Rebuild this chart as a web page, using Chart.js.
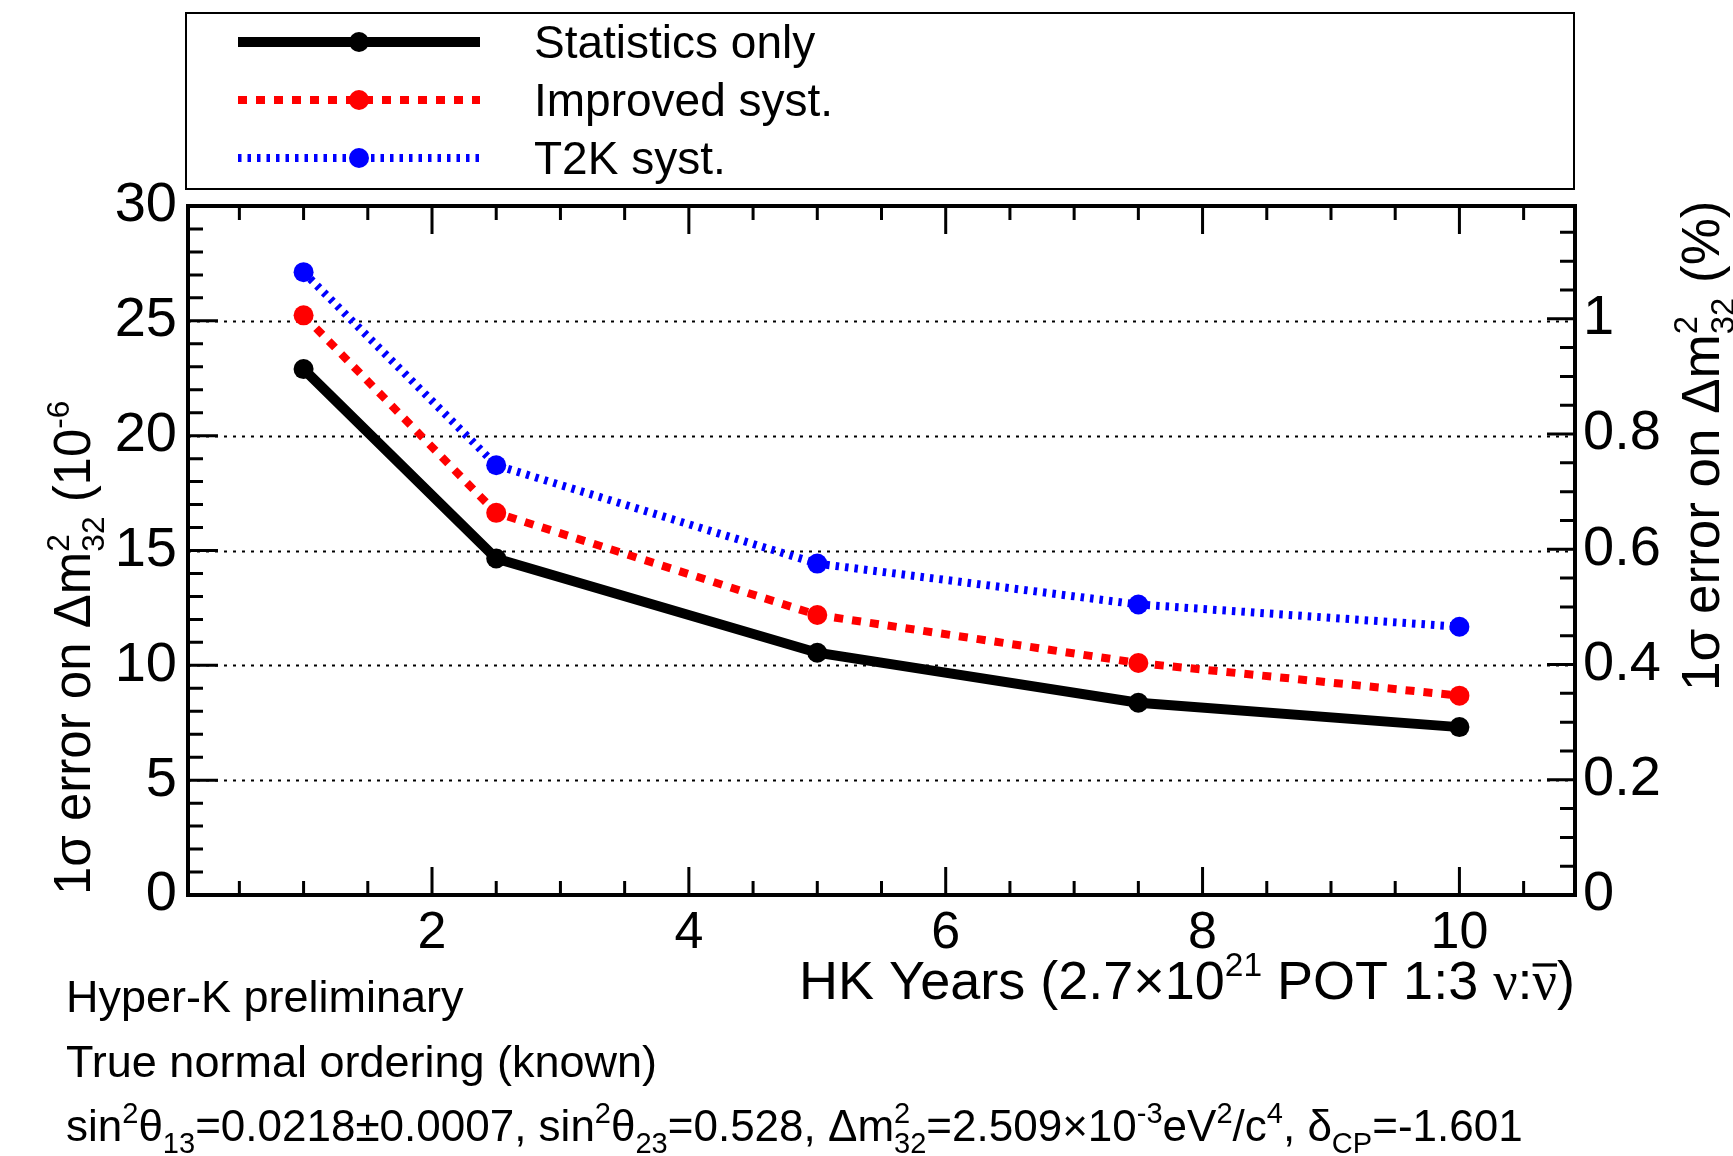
<!DOCTYPE html>
<html>
<head>
<meta charset="utf-8">
<script src="https://cdn.jsdelivr.net/npm/chart.js@4.4.1/dist/chart.umd.min.js"></script>
<style>
  html, body { margin: 0; padding: 0; background: #fff; }
  #wrap { width: 1733px; height: 1156px; }
</style>
</head>
<body>
<div id="wrap"><canvas id="c" width="1733" height="1156"></canvas></div>
<script>
// values (1 sigma error on dm2_32, units of 1e-6)
const years = [1, 2.5, 5, 7.5, 10];
const statOnly = [22.9, 14.65, 10.55, 8.37, 7.31];
const improvedSyst = [25.24, 16.64, 12.19, 10.1, 8.68];
const t2kSyst = [27.12, 18.71, 14.43, 12.65, 11.68];

const xTicks = [2, 4, 6, 8, 10];
const yTicks = [0, 5, 10, 15, 20, 25, 30];
const pctTicks = [0, 0.2, 0.4, 0.6, 0.8, 1];
const seriesNames = ['Statistics only', 'Improved syst.', 'T2K syst.'];

const dm32 = 2.509e-3;          // eV^2, used for the % axis on the right
const yMax = 30;
const pctMax = yMax * 1e-6 / dm32 * 100;

const FONT = "'Liberation Sans', Arial, Helvetica, sans-serif";
const SERIF = "'Liberation Serif', 'Times New Roman', serif";

const pts = arr => years.map((x, i) => ({ x, y: arr[i] }));

// ---- little TLatex-like text helper ----
let SUB = 0.62;
function segWidth(ctx, seg, size){
  const [t, k] = seg;
  if (k === 'st'){
    const [a, b] = t.split('|');
    ctx.font = `${size*SUB}px ${FONT}`;
    return Math.max(ctx.measureText(a).width, ctx.measureText(b).width);
  }
  if (k === '^' || k === '_') ctx.font = `${size*SUB}px ${FONT}`;
  else if (k === 'g' || k === 'gbar') ctx.font = `${size}px ${SERIF}`;
  else ctx.font = `${size}px ${FONT}`;
  return ctx.measureText(t).width;
}
function drawRich(ctx, segs, x, y, size, align){
  let total = 0;
  for (const s of segs) total += segWidth(ctx, s, size);
  let cx = align === 'right' ? x - total : x;
  ctx.textAlign = 'left';
  ctx.textBaseline = 'alphabetic';
  ctx.fillStyle = '#000';
  for (const s of segs){
    const [t, k] = s;
    const w = segWidth(ctx, s, size);
    if (k === 'st'){
      const [a, b] = t.split('|');
      ctx.font = `${size*SUB}px ${FONT}`;
      ctx.fillText(a, cx, y - size*0.42);
      ctx.fillText(b, cx, y + size*0.28);
    } else if (k === '^'){
      ctx.fillText(t, cx, y - size*0.42);
    } else if (k === '_'){
      ctx.fillText(t, cx, y + size*0.28);
    } else {
      ctx.fillText(t, cx, y);
      if (k === 'gbar'){
        ctx.fillRect(cx, y - size*0.66, w, size*0.06);
      }
    }
    cx += w;
  }
}

const yTitle = [['1σ error on Δm',''],['2|32','st'],[' (10',''],['-6','^']];
const pctTitle = [['1σ error on Δm',''],['2|32','st'],[' (%)','']];
const xTitle = [['HK Years (2.7×10',''],['21','^'],[' POT 1:3 ',''],['ν','g'],[':',''],['ν','gbar'],[')','']];
const notes = [
  [['Hyper-K preliminary','']],
  [['True normal ordering (known)','']],
  [['sin',''],['2','^'],['θ',''],['13','_'],['=0.0218±0.0007, sin',''],['2','^'],['θ',''],['23','_'],
   ['=0.528, Δm',''],['2|32','st'],['=2.509×10',''],['-3','^'],['eV',''],['2','^'],['/c',''],['4','^'],
   [', δ',''],['CP','_'],['=-1.601','']]
];

function tickLoop(from, to, step, fn){
  const n = Math.round((to - from) / step);
  for (let i = 0; i <= n; i++) fn(+(from + i*step).toFixed(6), i);
}

const rootStyle = {
  id: 'rootStyle',
  beforeDatasetsDraw(chart){
    const { ctx, chartArea: a, scales } = chart;
    ctx.save();
    ctx.strokeStyle = '#000';
    ctx.lineWidth = 2;
    ctx.setLineDash([3, 6]);
    for (const v of yTicks){
      if (v === 0 || v === yMax) continue;
      const py = Math.round(scales.y.getPixelForValue(v)) + 0.5;
      ctx.beginPath(); ctx.moveTo(a.left, py); ctx.lineTo(a.right, py); ctx.stroke();
    }
    ctx.restore();
  },
  afterDraw(chart){
    const { ctx, chartArea: a, scales } = chart;
    ctx.save();
    ctx.strokeStyle = '#000';
    ctx.lineWidth = 3;
    ctx.setLineDash([]);
    ctx.beginPath();
    // x ticks, bottom and top, pointing inwards
    tickLoop(0.5, 10.5, 0.5, v => {
      const px = scales.x.getPixelForValue(v);
      const len = (v % 2 === 0) ? 28 : 14;
      ctx.moveTo(px, a.bottom); ctx.lineTo(px, a.bottom - len);
      ctx.moveTo(px, a.top); ctx.lineTo(px, a.top + len);
    });
    // left ticks
    tickLoop(1, 29, 1, v => {
      const py = scales.y.getPixelForValue(v);
      const len = (v % 5 === 0) ? 30 : 15;
      ctx.moveTo(a.left, py); ctx.lineTo(a.left + len, py);
    });
    // right (%) ticks
    tickLoop(0.05, 1.15, 0.05, (v, i) => {
      const py = scales.y2.getPixelForValue(v);
      const len = ((i + 1) % 4 === 0) ? 28 : 15;
      ctx.moveTo(a.right, py); ctx.lineTo(a.right - len, py);
    });
    ctx.stroke();
    // frame
    ctx.lineWidth = 4;
    ctx.strokeRect(a.left, a.top, a.right - a.left, a.bottom - a.top);

    // axis titles
    ctx.save(); ctx.translate(90, a.bottom); ctx.rotate(-Math.PI/2);
    drawRich(ctx, yTitle, 0, 0, 51, 'left'); ctx.restore();
    ctx.save(); ctx.translate(1719, 691); ctx.rotate(-Math.PI/2);
    drawRich(ctx, pctTitle, 0, 0, 53, 'left'); ctx.restore();
    drawRich(ctx, xTitle, a.right, 999, 54, 'right');

    // notes under the plot (slightly larger sub/superscripts, like the original)
    const noteY = [1012, 1077, 1141];
    SUB = 0.66;
    notes.forEach((n, i) => drawRich(ctx, n, 66, noteY[i], i === 2 ? 44 : 45, 'left'));
    SUB = 0.62;

    // legend box
    ctx.lineWidth = 2;
    ctx.strokeRect(186, 13, 1388, 176);
    const rows = [42, 100, 158];
    chart.data.datasets.forEach((ds, i) => {
      const ry = rows[i];
      ctx.save();
      ctx.strokeStyle = ds.borderColor;
      ctx.lineWidth = ds.borderWidth;
      ctx.setLineDash(ds.borderDash || []);
      ctx.beginPath(); ctx.moveTo(238, ry); ctx.lineTo(480, ry); ctx.stroke();
      ctx.setLineDash([]);
      ctx.fillStyle = ds.pointBackgroundColor;
      ctx.beginPath(); ctx.arc(359, ry, ds.pointRadius, 0, Math.PI*2); ctx.fill();
      ctx.restore();
      ctx.fillStyle = '#000';
      ctx.font = `46px ${FONT}`;
      ctx.textAlign = 'left';
      ctx.textBaseline = 'alphabetic';
      ctx.fillText(ds.label, 534, ry + 16);
    });
    ctx.restore();
  }
};

function lineSet(label, values, color, width, dash){
  return {
    label, data: pts(values),
    borderColor: color, backgroundColor: color,
    borderWidth: width, borderDash: dash,
    pointRadius: 10, pointHoverRadius: 10,
    pointBorderWidth: 0, pointBackgroundColor: color,
    tension: 0, fill: false
  };
}

const tickFont = size => ({ family: FONT, size });
const noGrid = { display: false, drawTicks: false };

new Chart(document.getElementById('c').getContext('2d'), {
  type: 'line',
  data: {
    datasets: [
      lineSet(seriesNames[0], statOnly, '#000000', 10, []),
      lineSet(seriesNames[1], improvedSyst, '#ff0000', 8, [9, 9]),
      lineSet(seriesNames[2], t2kSyst, '#0000ff', 8, [3.5, 6])
    ]
  },
  options: {
    responsive: false,
    animation: false,
    devicePixelRatio: 1,
    layout: { padding: { top: 206, left: 0, right: 0, bottom: 0 } },
    plugins: { legend: { display: false }, tooltip: { enabled: false } },
    scales: {
      x: {
        type: 'linear', min: 0.1, max: 10.9,
        afterBuildTicks: s => { s.ticks = xTicks.map(value => ({ value })); },
        afterFit: s => { s.height = 261; },
        grid: noGrid, border: { display: false },
        ticks: { font: tickFont(52), color: '#000', padding: 7, maxRotation: 0 }
      },
      y: {
        position: 'left', min: 0, max: yMax,
        afterBuildTicks: s => { s.ticks = yTicks.map(value => ({ value })); },
        afterFit: s => { s.width = 188; },
        grid: noGrid, border: { display: false },
        ticks: { font: tickFont(56), color: '#000', padding: 11 }
      },
      y2: {
        position: 'right', min: 0, max: pctMax,
        afterBuildTicks: s => { s.ticks = pctTicks.map(value => ({ value })); },
        afterFit: s => { s.width = 158; },
        grid: noGrid, border: { display: false },
        ticks: { font: tickFont(56), color: '#000', padding: 8,
                 callback: v => String(+v.toFixed(1)) }
      }
    }
  },
  plugins: [rootStyle]
});
</script>
</body>
</html>
